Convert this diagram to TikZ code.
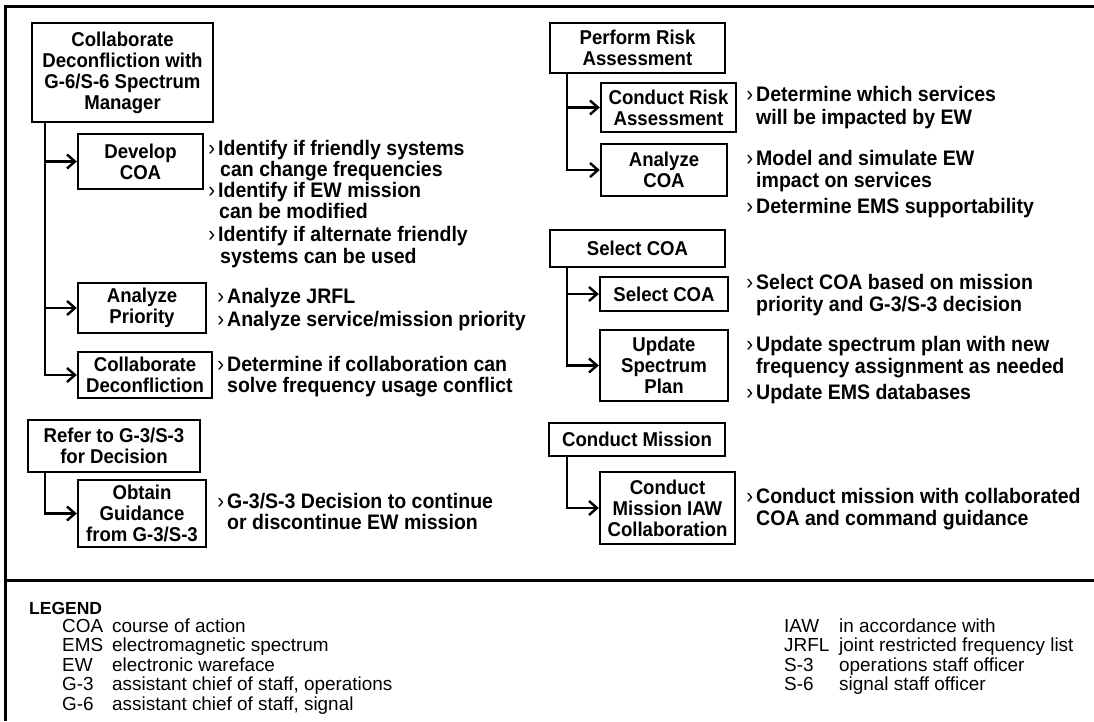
\documentclass[tikz,border=0pt]{standalone}
\usepackage{fontspec}
\setmainfont{Liberation Sans}[FakeStretch=0.93]
\newfontfamily\fmlegfam{Liberation Sans}
\usetikzlibrary{arrows.meta}

\newcommand\fmboxfont{\bfseries\fontsize{20}{21}\selectfont}
\newcommand\fmbulfont{\bfseries\fontsize{21}{22}\selectfont}
\newcommand\fmlegfont{\fmlegfam\fontsize{18.9}{19.5}\selectfont}
\newcommand\fmbul{\llap{\mdseries\fontsize{22}{22}\selectfont ›\hspace{3pt}}}

\begin{document}
\begin{tikzpicture}[x=1pt,y=-1pt,
  box/.style={draw, line width=2.4pt, align=center, font=\fmboxfont, inner sep=0pt},
  conn/.style={line width=2.4pt, -{Straight Barb[length=8pt,width=14pt]}},
  btext/.style={anchor=base west, font=\fmbulfont, inner sep=0pt},
  legtext/.style={anchor=base west, font=\fmlegfont, inner sep=0pt},
  leghead/.style={anchor=base west, font=\fmlegfam\bfseries\fontsize{17.5}{19}\selectfont, inner sep=0pt},
  rule/.style={line width=3pt}]
\useasboundingbox (0,0) rectangle (1094,721);
\fill[white] (0,0) rectangle (1094,721);

% outer frame and legend separator
\draw[rule] (1094,6.5) -- (5.5,6.5) -- (5.5,721);
\draw[rule] (5.5,580) -- (1094,580);

% ---------- left column ----------
\node[box, minimum width=181pt, minimum height=99pt] (collab) at (122.5,72.5)
  {Collaborate\\Deconfliction with\\G-6/S-6 Spectrum\\Manager};
\node[box, minimum width=125pt, minimum height=55pt] (dev) at (140.5,161.5) {Develop\\COA};
\node[box, minimum width=128pt, minimum height=50pt] (prio) at (142,308) {Analyze\\Priority};
\node[box, minimum width=134pt, minimum height=46pt] (decon) at (145,375) {Collaborate\\Deconfliction};
\node[box, minimum width=172pt, minimum height=52pt] (refer) at (114,446) {Refer to G-3/S-3\\for Decision};
\node[box, minimum width=128pt, minimum height=67pt] (obtain) at (142,513.5) {Obtain\\Guidance\\from G-3/S-3};

\draw[conn] (collab.south west) ++(14pt,0) |- (dev.west);
\draw[conn] (collab.south west) ++(14pt,0) |- (prio.west);
\draw[conn] (collab.south west) ++(14pt,0) |- (decon.west);
\draw[conn] (refer.south west) ++(18pt,0) |- (obtain.west);

\node[btext] (d1) at (218,155) {\fmbul Identify if friendly systems};
\node[btext] (d1b) at (220,176) {can change frequencies};
\node[btext] (d2) at (218,197) {\fmbul Identify if EW mission};
\node[btext] (d2b) at (219,218) {can be modified};
\node[btext] (d3) at (218,241) {\fmbul Identify if alternate friendly};
\node[btext] (d3b) at (220,263) {systems can be used};

\node[btext] (p1) at (227,303) {\fmbul Analyze JRFL};
\node[btext] (p2) at (227,326) {\fmbul Analyze service/mission priority};

\node[btext] (c1) at (227,371) {\fmbul Determine if collaboration can};
\node[btext] (c1b) at (227,392) {solve frequency usage conflict};

\node[btext] (o1) at (227,508) {\fmbul G-3/S-3 Decision to continue};
\node[btext] (o1b) at (227,529) {or discontinue EW mission};

% ---------- right column ----------
\node[box, minimum width=175pt, minimum height=50pt] (risk) at (637.5,48) {Perform Risk\\Assessment};
\node[box, minimum width=135pt, minimum height=49pt] (crisk) at (668.5,107.5) {Conduct Risk\\Assessment};
\node[box, minimum width=126pt, minimum height=52pt] (acoa) at (664,170) {Analyze\\COA};
\node[box, minimum width=175pt, minimum height=37pt] (scoa) at (637.5,248.5) {Select COA};
\node[box, minimum width=128pt, minimum height=34pt] (scoa2) at (664,294) {Select COA};
\node[box, minimum width=128pt, minimum height=71pt] (upd) at (664,365.5) {Update\\Spectrum\\Plan};
\node[box, minimum width=176pt, minimum height=33pt] (cmis) at (637,439.5) {Conduct Mission};
\node[box, minimum width=135pt, minimum height=72pt] (cmiaw) at (667.5,508) {Conduct\\Mission IAW\\Collaboration};

\draw[conn] (risk.south west) ++(18pt,0) |- (crisk.west);
\draw[conn] (risk.south west) ++(18pt,0) |- (acoa.west);
\draw[conn] (scoa.south west) ++(18pt,0) |- (scoa2.west);
\draw[conn] (scoa.south west) ++(18pt,0) |- (upd.west);
\draw[conn] (cmis.south west) ++(19pt,0) |- (cmiaw.west);

\node[btext] (r1) at (756,101) {\fmbul Determine which services};
\node[btext] (r1b) at (756,124) {will be impacted by EW};
\node[btext] (a1) at (756,165) {\fmbul Model and simulate EW};
\node[btext] (a1b) at (756,187) {impact on services};
\node[btext] (a2) at (756,213) {\fmbul Determine EMS supportability};
\node[btext] (s1) at (756,289) {\fmbul Select COA based on mission};
\node[btext] (s1b) at (756,311) {priority and G-3/S-3 decision};
\node[btext] (u1) at (756,351) {\fmbul Update spectrum plan with new};
\node[btext] (u1b) at (756,373) {frequency assignment as needed};
\node[btext] (u2) at (756,399) {\fmbul Update EMS databases};
\node[btext] (m1) at (756,503) {\fmbul Conduct mission with collaborated};
\node[btext] (m1b) at (756,525) {COA and command guidance};

% ---------- legend ----------
\node[leghead] (leg) at (29,614) {LEGEND};
\node[legtext] (k1) at (62,632) {COA};     \node[legtext] (v1) at (112,632) {course of action};
\node[legtext] (k2) at (62,651.5) {EMS};   \node[legtext] (v2) at (112,651.5) {electromagnetic spectrum};
\node[legtext] (k3) at (62,671) {EW};      \node[legtext] (v3) at (112,671) {electronic wareface};
\node[legtext] (k4) at (62,690.5) {G-3};   \node[legtext] (v4) at (112,690.5) {assistant chief of staff, operations};
\node[legtext] (k5) at (62,710) {G-6};     \node[legtext] (v5) at (112,710) {assistant chief of staff, signal};

\node[legtext] (k6) at (784,632) {IAW};    \node[legtext] (v6) at (839,632) {in accordance with};
\node[legtext] (k7) at (784,651.5) {JRFL}; \node[legtext] (v7) at (839,651.5) {joint restricted frequency list};
\node[legtext] (k8) at (784,671) {S-3};    \node[legtext] (v8) at (839,671) {operations staff officer};
\node[legtext] (k9) at (784,690.5) {S-6};  \node[legtext] (v9) at (839,690.5) {signal staff officer};
\end{tikzpicture}
\end{document}
